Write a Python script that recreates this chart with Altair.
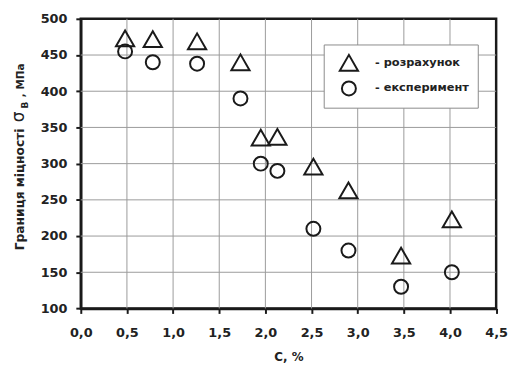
import altair as alt
import pandas as pd

# ---- data ----
carbon = [0.48, 0.78, 1.26, 1.73, 1.95, 2.13, 2.52, 2.90, 3.47, 4.02]
calculated = [473, 472, 469, 440, 336, 337, 296, 263, 173, 223]
experimental = [455, 440, 438, 390, 300, 290, 210, 180, 130, 150]
series_names = ["- розрахунок", "- експеримент"]
series_shapes = ["triangle-up", "circle"]
series_sizes = [340, 200]
x_ticks = [0.0, 0.5, 1.0, 1.5, 2.0, 2.5, 3.0, 3.5, 4.0, 4.5]
y_ticks = [100, 150, 200, 250, 300, 350, 400, 450, 500]
x_title = "C, %"
y_title_parts = ["Границя міцності", "σ", "В", ", МПа"]

points_df = pd.DataFrame({
    "c": carbon + carbon,
    "sigma": calculated + experimental,
    "series": [series_names[0]] * len(carbon) + [series_names[1]] * len(carbon),
})
xgrid_df = pd.DataFrame({"c": x_ticks[1:-1]})
ygrid_df = pd.DataFrame({"sigma": y_ticks[1:-1]})

FONT = "DejaVu Sans"
INK = "#1a1a1a"
GRID = "#9a9a9a"

x_scale = alt.Scale(domain=[0, 4.5], nice=False, zero=False)
y_scale = alt.Scale(domain=[100, 500], nice=False, zero=False)

legend = alt.Legend(
    title=None, orient="none", legendX=246, legendY=26,
    padding=8, symbolOffset=7, labelOffset=16, rowPadding=2,
    labelFont=FONT, labelFontWeight="bold", labelFontSize=11.5, labelColor="#222",
    strokeColor="#8a8a8a", fillColor="white",
    symbolStrokeColor=INK, symbolFillColor="transparent", symbolStrokeWidth=2,
    labelLimit=0,
)

x_axis = alt.Axis(values=x_ticks, title=x_title,
                  labelExpr="replace(format(datum.value, '.1f'), '.', ',')",
                  labelFlush=False, labelOverlap=False,
                  labelPadding=13, titlePadding=13, grid=False)
y_axis = alt.Axis(values=y_ticks, title=None, format="d", grid=False,
                  labelOverlap=False, labelFlush=False)

xgrid = alt.Chart(xgrid_df).mark_rule(color=GRID, strokeWidth=1).encode(
    x=alt.X("c:Q", scale=x_scale, axis=x_axis)
)
ygrid = alt.Chart(ygrid_df).mark_rule(color=GRID, strokeWidth=1).encode(
    y=alt.Y("sigma:Q", scale=y_scale, axis=y_axis)
)

points = alt.Chart(points_df).mark_point(
    filled=False, color=INK, strokeWidth=2, opacity=1
).encode(
    x=alt.X("c:Q", scale=x_scale, axis=x_axis),
    y=alt.Y("sigma:Q", scale=y_scale, axis=y_axis),
    shape=alt.Shape("series:N", scale=alt.Scale(domain=series_names, range=series_shapes), legend=legend),
    size=alt.Size("series:N", scale=alt.Scale(domain=series_names, range=series_sizes), legend=legend),
)


def title_piece(text, x, y, size, weight):
    return alt.Chart(pd.DataFrame({"t": [text]})).mark_text(
        angle=270, align="left", baseline="alphabetic",
        font=FONT, fontSize=size, fontWeight=weight, color="#222"
    ).encode(x=alt.value(x), y=alt.value(y), text="t:N")


ytitle = [
    title_piece(y_title_parts[0], -57.7, 234.3, 12.4, "bold"),
    title_piece(y_title_parts[1], -57.7, 104.8, 17, "normal"),
    title_piece(y_title_parts[2], -53.7, 90.8, 9, "bold"),
    title_piece(y_title_parts[3], -57.7, 79.3, 10.5, "bold"),
]

chart = alt.layer(xgrid, ygrid, points, *ytitle).properties(
    width=420.6, height=293.3,
    autosize=alt.AutoSizeParams(type="none"),
    padding={"left": 73.7, "top": 8.7, "right": 12, "bottom": 55},
    background="white",
).configure_view(
    stroke=INK, strokeWidth=2.5
).configure_axis(
    domainColor=INK, domainWidth=2.5,
    ticks=True, tickColor=INK, tickWidth=2, tickSize=5,
    labelFont=FONT, labelFontWeight="bold", labelFontSize=13, labelColor="#222",
    labelPadding=9,
    titleFont=FONT, titleFontWeight="bold", titleFontSize=12, titleColor="#222",
)

chart.save("out.html", embed_options={"renderer": "svg", "actions": False})
